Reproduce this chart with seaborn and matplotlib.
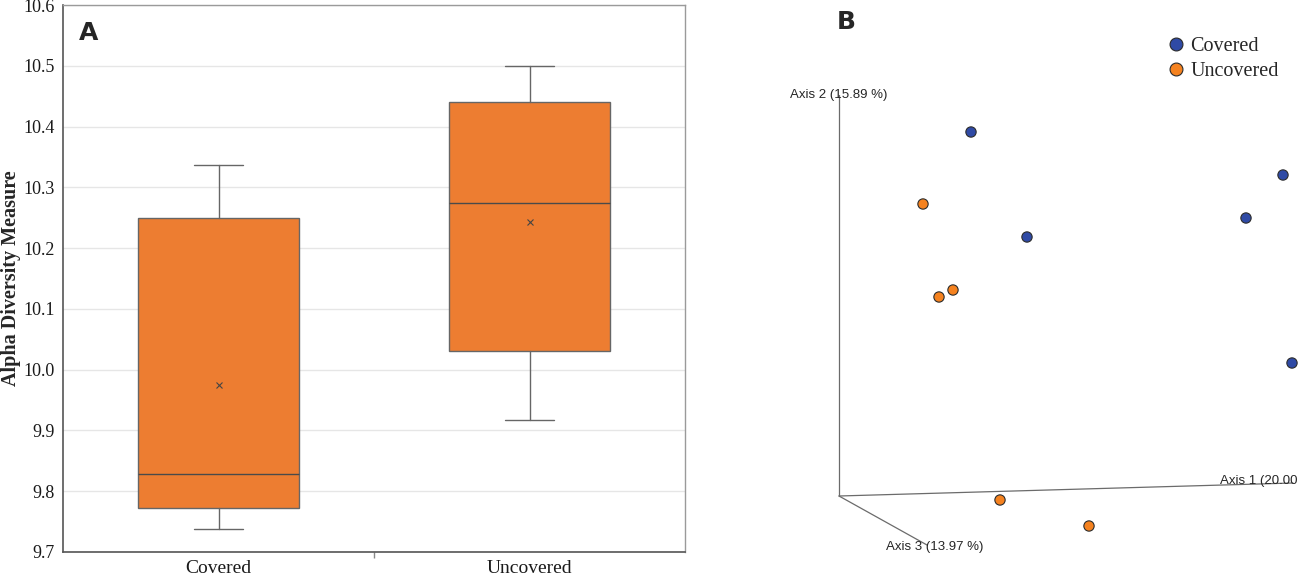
import numpy as np
import pandas as pd
import matplotlib.pyplot as plt
from matplotlib.ticker import FixedLocator
import seaborn as sns

# ---------------------------
# data
# ---------------------------
groups = ["Covered", "Uncovered"]
whisker_low = [9.738, 9.918]
q1 = [9.772, 10.030]
median = [9.828, 10.275]
q3 = [10.250, 10.441]
whisker_high = [10.337, 10.500]
mean = [9.975, 10.243]

# PCoA points, projected (origin = corner of the 3 axes)
pcoa_group = ["Covered"] * 5 + ["Uncovered"] * 5
pcoa_x = [132, 444, 407, 188, 453, 84, 114, 100, 161, 250]
pcoa_y = [364, 321, 278, 259, 133, 292, 206, 199, -4, -30]

axis_names = ["Axis 1 (20.00 %)", "Axis 2 (15.89 %)", "Axis 3 (13.97 %)"]
axis_end_x = [454, 0, 88]
axis_end_y = [13, 401, -49]

BOX_COLOR = "#ED7D31"
PALETTE = {"Covered": "#2F4AA5", "Uncovered": "#F5821F"}

sns.set_theme(style="white")
plt.rcParams["font.family"] = ["Liberation Serif", "DejaVu Serif"]

W, H = 1299, 576
fig = plt.figure(figsize=(W / 100, H / 100), dpi=100)

# =====================
# A. box plot
# =====================
axA = fig.add_axes([63 / W, 24 / H, 622 / W, 547 / H])

stats = []
for i, g in enumerate(groups):
    stats.append(dict(label=g, whislo=whisker_low[i], q1=q1[i], med=median[i],
                      q3=q3[i], whishi=whisker_high[i], mean=mean[i], fliers=[]))

axA.bxp(stats, positions=[0, 1], widths=0.52, capwidths=0.155,
        patch_artist=True, showmeans=True, showfliers=False,
        boxprops=dict(facecolor=BOX_COLOR, edgecolor="#666666", linewidth=1.0),
        whiskerprops=dict(color="#666666", linewidth=1.0),
        capprops=dict(color="#666666", linewidth=1.0),
        medianprops=dict(color="#4a4a4a", linewidth=1.0),
        meanprops=dict(marker="x", markeredgecolor="#444444", markersize=4,
                       markeredgewidth=0.8))

axA.set_xlim(-0.5, 1.5)
axA.set_ylim(9.7, 10.6)
ticks = np.arange(9.7, 10.61, 0.1)
axA.set_yticks(ticks)
axA.set_yticklabels([f"{v:.1f}" for v in ticks], fontsize=13)
axA.set_xticks([0, 1])
axA.set_xticklabels(groups, fontsize=14)
axA.xaxis.set_minor_locator(FixedLocator([0.5]))
axA.tick_params(axis="x", which="major", length=0, pad=6, colors="#1a1a1a")
axA.tick_params(axis="x", which="minor", length=4, color="#888888", direction="out", bottom=True)
axA.tick_params(axis="y", length=0, pad=6, colors="#1a1a1a")
axA.yaxis.grid(True, color="#e6e6e6", linewidth=1.0)
axA.set_axisbelow(True)
for side in ["top", "right"]:
    axA.spines[side].set_color("#9a9a9a")
    axA.spines[side].set_linewidth(1.0)
for side in ["left", "bottom"]:
    axA.spines[side].set_color("#555555")
    axA.spines[side].set_linewidth(1.2)
axA.set_xlabel("")
axA.set_ylabel("Alpha Diversity Measure", fontsize=14.5, fontweight="bold")
axA.yaxis.set_label_coords((21 - 63) / 622, (576 - 278 - 24) / 547)

fig.text(89 / W, 1 - 33 / H, "A", fontsize=18, fontweight="bold",
         family="DejaVu Sans", ha="center", va="center")

# =====================
# B. PCoA (3D-style)
# =====================
axB = fig.add_axes([780 / W, 0, 519 / W, 1])
axB.set_xlim(-59, 460)
axB.set_ylim(-80, 496)
axB.axis("off")

for ex, ey in zip(axis_end_x, axis_end_y):
    axB.plot([0, ex], [0, ey], color="#6b6b6b", linewidth=0.9, zorder=1)

axB.text(381, 15, axis_names[0], family="Liberation Sans", fontsize=9.5,
         ha="left", va="center", clip_on=False)
axB.text(0, 401, axis_names[1], family="Liberation Sans", fontsize=9.5,
         ha="center", va="center")
axB.text(96, -51, axis_names[2], family="Liberation Sans", fontsize=9.5,
         ha="center", va="center")

df = pd.DataFrame({"x": pcoa_x, "y": pcoa_y, "group": pcoa_group})
sns.scatterplot(data=df, x="x", y="y", hue="group", palette=PALETTE,
                s=55, edgecolor="#2b2b2b", linewidth=0.8, ax=axB, zorder=3,
                clip_on=False)

leg = axB.legend(loc="upper left", bbox_to_anchor=((1166 - 780) / 519, 1 - 37 / H),
                 frameon=False, fontsize=14.5, handlelength=1.0, handletextpad=0.2,
                 labelspacing=0.3, borderaxespad=0, borderpad=0, markerscale=1.25)

fig.text(846 / W, 1 - 22 / H, "B", fontsize=18, fontweight="bold",
         family="DejaVu Sans", ha="center", va="center")

fig.savefig("out.png", dpi=100)
